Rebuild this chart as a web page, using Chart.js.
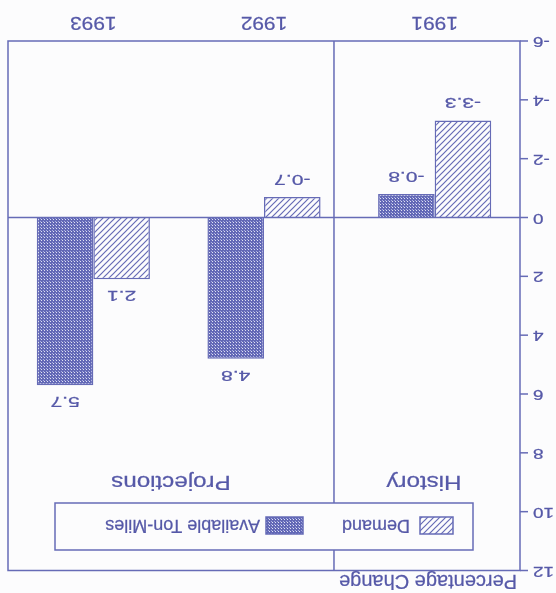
<!DOCTYPE html>
<html>
<head>
<meta charset="utf-8">
<script src="https://cdn.jsdelivr.net/npm/chart.js@4/dist/chart.umd.min.js"></script>
<style>
  html, body { margin: 0; padding: 0; background: #fcfcfd; }
  /* the printed page is shown turned half-way round */
  #chart { display: block; transform: rotate(180deg); }
</style>
</head>
<body>
<canvas id="chart" width="556" height="593"></canvas>
<script>
// Years on the category axis
const categories = ['1991', '1992', '1993'];
// Percentage change in demand
const demand = [-3.3, -0.7, 2.1];
// Percentage change in available ton-miles
const availableTonMiles = [-0.8, 4.8, 5.7];
// Value-axis tick labels
const valueTicks = [-6, -4, -2, 0, 2, 4, 6, 8, 10, 12];
// Series and period names
const seriesNames = ['Demand', 'Available Ton-Miles'];
const periodNames = ['History', 'Projections'];
const axisTitle = 'Percentage Change';
// History / Projections divider, in category units
const dividerAt = 0.59;

const INK = '#5659a8';
const LINE = '#666bb6';
const FONT = '"Liberation Sans", Arial, sans-serif';

function hatchPattern() {
  const c = document.createElement('canvas');
  c.width = 6; c.height = 6;
  const g = c.getContext('2d');
  g.fillStyle = '#fcfcfd';
  g.fillRect(0, 0, 6, 6);
  g.strokeStyle = LINE;
  g.lineWidth = 1.2;
  g.beginPath();
  g.moveTo(-1, 7); g.lineTo(7, -1);
  g.moveTo(-4, 4); g.lineTo(4, -4);
  g.moveTo(2, 10); g.lineTo(10, 2);
  g.stroke();
  return g.createPattern(c, 'repeat');
}

function dotPattern() {
  const c = document.createElement('canvas');
  c.width = 3; c.height = 3;
  const g = c.getContext('2d');
  g.fillStyle = '#6268b6';
  g.fillRect(0, 0, 3, 3);
  g.fillStyle = '#dfe1f3';
  g.fillRect(1, 1, 1, 1);
  g.fillStyle = '#a9ade0';
  g.fillRect(2, 2, 1, 1);
  return g.createPattern(c, 'repeat');
}

const fills = [hatchPattern(), dotPattern()];

function stretchedText(ctx, text, x, y, size, sx, align, baseline) {
  ctx.save();
  ctx.font = size + 'px ' + FONT;
  ctx.fillStyle = INK;
  ctx.strokeStyle = INK;
  ctx.lineWidth = 0.25;
  ctx.textAlign = align;
  ctx.textBaseline = baseline;
  ctx.translate(x, y);
  ctx.scale(sx, 1);
  ctx.fillText(text, 0, 0);
  ctx.strokeText(text, 0, 0);
  ctx.restore();
}

const decorations = {
  id: 'decorations',
  beforeDraw(chart) {
    const ctx = chart.ctx;
    ctx.save();
    ctx.fillStyle = '#fcfcfd';
    ctx.fillRect(0, 0, chart.width, chart.height);
    ctx.restore();
  },
  afterDraw(chart) {
    const ctx = chart.ctx;
    const area = chart.chartArea;
    const xs = chart.scales.x;
    const ys = chart.scales.y;

    ctx.save();
    ctx.strokeStyle = LINE;
    ctx.lineWidth = 1.5;

    // frame
    ctx.strokeRect(area.left, area.top, area.right - area.left, area.bottom - area.top);

    // zero line
    const y0 = ys.getPixelForValue(0);
    ctx.beginPath();
    ctx.moveTo(area.left, y0);
    ctx.lineTo(area.right, y0);
    // history / projections divider
    const xd = xs.getPixelForValue(dividerAt);
    ctx.moveTo(xd, area.top);
    ctx.lineTo(xd, area.bottom);
    ctx.stroke();

    // value-axis ticks and labels
    ys.ticks.forEach((t, i) => {
      const y = ys.getPixelForValue(t.value);
      ctx.beginPath();
      ctx.moveTo(area.left - 8, y);
      ctx.lineTo(area.left, y);
      ctx.stroke();
      stretchedText(ctx, String(valueTicks[i]), area.left - 13, y, 14, 1.35, 'right', 'middle');
    });
    ctx.restore();

    // year labels
    categories.forEach((c, i) => {
      stretchedText(ctx, c, xs.getPixelForValue(i), area.bottom + 19, 19, 1.1, 'center', 'middle');
    });

    // value labels at the bar ends
    chart.data.datasets.forEach((ds, di) => {
      chart.getDatasetMeta(di).data.forEach((bar, i) => {
        const v = ds.data[i];
        const y = v >= 0 ? bar.y - 16 : bar.y + 18;
        stretchedText(ctx, v.toFixed(1), bar.x, y, 15, 1.4, 'center', 'middle');
      });
    });

    // period names
    stretchedText(ctx, periodNames[0], (area.left + xd) / 2 + 3, 117, 21, 1.15, 'center', 'alphabetic');
    stretchedText(ctx, periodNames[1], (xd + area.right) / 2, 117, 21, 1.15, 'center', 'alphabetic');

    // axis title
    stretchedText(ctx, axisTitle, 39, 18, 20, 1.0, 'left', 'alphabetic');

    // legend
    const lx = area.left + 47, ly = area.top + 20.5, lw = 418, lh = 47;
    ctx.save();
    ctx.fillStyle = '#fcfcfd';
    ctx.fillRect(lx, ly, lw, lh);
    ctx.strokeStyle = LINE;
    ctx.lineWidth = 1.5;
    ctx.strokeRect(lx, ly, lw, lh);
    const items = [
      { sx: lx + 20, sw: 33, tx: lx + 63 },
      { sx: lx + 170, sw: 37, tx: lx + 213 }
    ];
    items.forEach((it, i) => {
      ctx.fillStyle = fills[i];
      ctx.fillRect(it.sx, ly + 16, it.sw, 17);
      ctx.strokeRect(it.sx, ly + 16, it.sw, 17);
      stretchedText(ctx, seriesNames[i], it.tx, ly + 25, 18, 1.0, 'left', 'middle');
    });
    ctx.restore();
  }
};

new Chart(document.getElementById('chart'), {
  type: 'bar',
  data: {
    labels: categories,
    datasets: [
      { label: seriesNames[0], data: demand, backgroundColor: fills[0] },
      { label: seriesNames[1], data: availableTonMiles, backgroundColor: fills[1] }
    ]
  },
  options: {
    responsive: false,
    animation: false,
    devicePixelRatio: 1,
    layout: { padding: { left: 36, right: 8, top: 22.5, bottom: 41 } },
    datasets: {
      bar: {
        categoryPercentage: 0.663,
        barPercentage: 1.0,
        borderColor: LINE,
        borderWidth: 1.5
      }
    },
    scales: {
      x: { display: false, offset: true },
      y: {
        display: false,
        min: valueTicks[0],
        max: valueTicks[valueTicks.length - 1],
        afterBuildTicks: s => { s.ticks = valueTicks.map(v => ({ value: v })); }
      }
    },
    plugins: {
      legend: { display: false },
      tooltip: { enabled: false }
    }
  },
  plugins: [decorations]
});
</script>
</body>
</html>
